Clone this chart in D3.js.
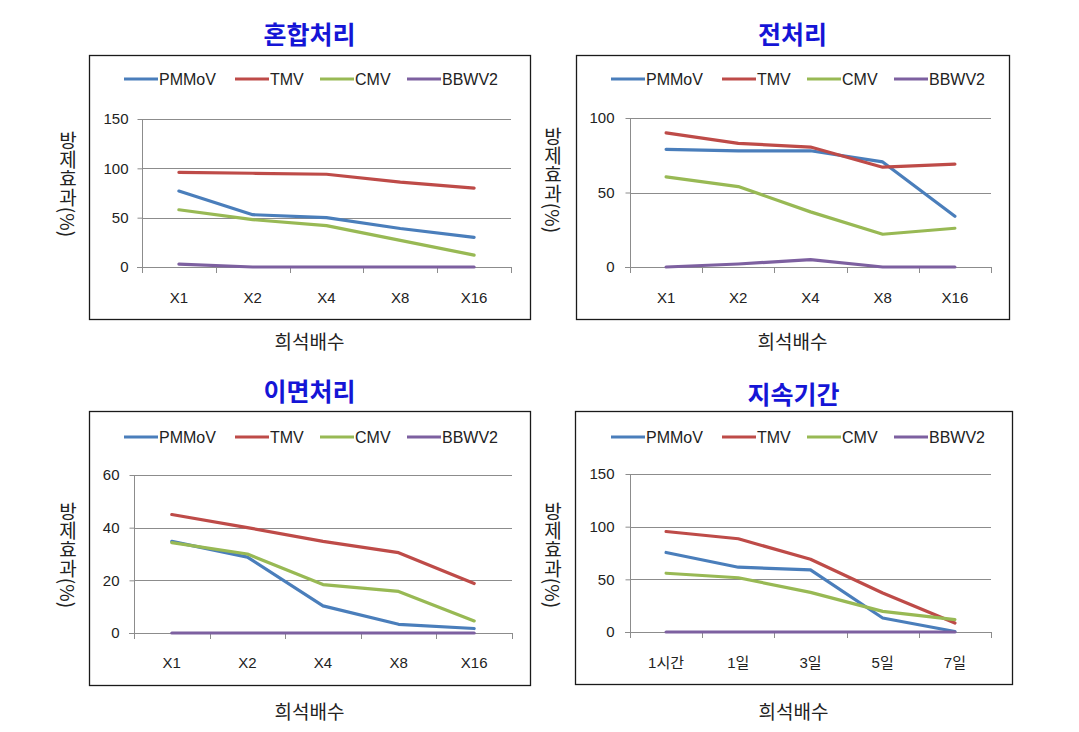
<!DOCTYPE html>
<html><head><meta charset="utf-8">
<script src="https://cdn.jsdelivr.net/npm/d3@7"></script>
<style>
body{margin:0;background:#fff;}
svg{display:block;font-family:"Liberation Sans","Noto Sans CJK KR",sans-serif;}
</style></head>
<body><svg id="c" width="1079" height="732"></svg>
<script>
const seriesNames = ["PMMoV","TMV","CMV","BBWV2"];
const seriesColors = ["#4a7ebb","#be4b48","#98b954","#7d60a0"];
const dilutionCats = ["X1","X2","X4","X8","X16"];
const durationCats = ["1시간","1일","3일","5일","7일"];
const panelTitles = ["혼합처리","전처리","이면처리","지속기간"];
const xAxisTitle = "희석배수";
const yAxisTitle = "방제효과(%)";

// 혼합처리
const mixPMMoV = [77,53,50,39,30];
const mixTMV   = [96,95,94,86,80];
const mixCMV   = [58,48,42,27,12];
const mixBBWV2 = [3,0,0,0,0];
const mixTicks = [0,50,100,150];
// 전처리
const prePMMoV = [79,78,78,70.5,34];
const preTMV   = [90,83,80.5,67,69];
const preCMV   = [60.5,54,37,22,26];
const preBBWV2 = [0,2,5,0,0];
const preTicks = [0,50,100];
// 이면처리
const backPMMoV = [34.8,28.8,10.3,3.3,1.7];
const backTMV   = [45,40,34.8,30.5,18.8];
const backCMV   = [34.3,30,18.4,15.8,4.6];
const backBBWV2 = [0,0,0,0,0];
const backTicks = [0,20,40,60];
// 지속기간
const durPMMoV = [75.5,61.5,59,13.3,0.5];
const durTMV   = [95.4,88.5,69,37,8.5];
const durCMV   = [55.8,51.5,37.6,19.6,11.7];
const durBBWV2 = [0,0,0,0,0];
const durTicks = [0,50,100,150];

const panels = [
  {title:panelTitles[0], cats:dilutionCats, series:[mixPMMoV,mixTMV,mixCMV,mixBBWV2], ticks:mixTicks,
   box:[89,55,530,319], plot:[142,119,511,267], titleY:33, xTitleY:340, yLabelX:68, yLabelY:184, legendY:79, legendX:124, tickLabelX:128, catY:297},
  {title:panelTitles[1], cats:dilutionCats, series:[prePMMoV,preTMV,preCMV,preBBWV2], ticks:preTicks,
   box:[576,55,1009,319], plot:[630,118,991,267], titleY:33, xTitleY:340, yLabelX:553, yLabelY:180, legendY:79, legendX:611, tickLabelX:614, catY:297},
  {title:panelTitles[2], cats:dilutionCats, series:[backPMMoV,backTMV,backCMV,backBBWV2], ticks:backTicks,
   box:[89,411,530,685], plot:[134,475,512,633], titleY:390, xTitleY:710, yLabelX:68, yLabelY:555, legendY:437, legendX:124, tickLabelX:119, catY:662},
  {title:panelTitles[3], cats:durationCats, series:[durPMMoV,durTMV,durCMV,durBBWV2], ticks:durTicks,
   box:[575,411,1012,684], plot:[630,474,991,632], titleY:393, xTitleY:710, yLabelX:553, yLabelY:555, legendY:437, legendX:611, tickLabelX:614, catY:662}
];

const svg = d3.select("#c");

panels.forEach(p => {
  const g = svg.append("g");
  const [bx0,by0,bx1,by1] = p.box;
  const cx = (bx0+bx1)/2;
  // title
  g.append("text").attr("x",cx).attr("y",p.titleY).attr("text-anchor","middle").attr("dominant-baseline","central")
    .attr("font-family","'Noto Sans CJK KR',sans-serif")
    .attr("font-size",25).attr("font-weight","bold").attr("fill","#1515d6").text(p.title);
  // box
  g.append("rect").attr("x",bx0+0.5).attr("y",by0+0.5).attr("width",bx1-bx0).attr("height",by1-by0)
    .attr("fill","#fff").attr("stroke","#1a1a1a").attr("stroke-width",1.3);
  // x title
  g.append("text").attr("x",cx).attr("y",p.xTitleY).attr("text-anchor","middle").attr("dominant-baseline","central")
    .attr("font-family","'Noto Sans CJK KR',sans-serif")
    .attr("font-size",19).attr("fill","#222").text(xAxisTitle);
  // y title vertical
  g.append("text").attr("x",p.yLabelX).attr("y",p.yLabelY).attr("text-anchor","middle")
    .attr("font-family","'Noto Sans CJK KR',sans-serif")
    .style("writing-mode","vertical-rl").style("text-orientation","mixed")
    .attr("font-size",19).attr("fill","#222").text(yAxisTitle);

  const [px0,py0,px1,py1] = p.plot;
  const x = d3.scaleBand().domain(p.cats).range([px0,px1]);
  const yMax = p.ticks[p.ticks.length-1];
  const y = d3.scaleLinear().domain([0,yMax]).range([py1,py0]);

  // gridlines
  g.append("g").selectAll("line").data(p.ticks.filter(t=>t>0)).join("line")
    .attr("x1",px0).attr("x2",px1).attr("y1",d=>Math.round(y(d))+0.5).attr("y2",d=>Math.round(y(d))+0.5)
    .attr("stroke","#8c8c8c").attr("stroke-width",1);
  // y axis
  const yAxis = d3.axisLeft(y).tickValues(p.ticks).tickSize(5).tickPadding(p.plot[0]-5-p.tickLabelX);
  const ya = g.append("g").attr("transform",`translate(${px0+0.5},0)`).call(yAxis);
  ya.select(".domain").attr("stroke","#8c8c8c").attr("d",`M0,${py0}V${py1}`);
  ya.selectAll(".tick line").attr("stroke","#8c8c8c");
  ya.selectAll(".tick text").attr("font-size",15).attr("fill","#222").attr("font-family","'Liberation Sans',sans-serif");
  // x axis line
  g.append("line").attr("x1",px0-5).attr("x2",px1).attr("y1",Math.round(py1)+0.5).attr("y2",Math.round(py1)+0.5)
    .attr("stroke","#8c8c8c");
  // boundary ticks
  const bounds = p.cats.map(c=>x(c)).concat([px1]);
  g.append("g").selectAll("line").data(bounds).join("line")
    .attr("x1",d=>Math.round(d)+0.5).attr("x2",d=>Math.round(d)+0.5).attr("y1",py1).attr("y2",py1+6)
    .attr("stroke","#8c8c8c");
  // category labels
  g.append("g").selectAll("text").data(p.cats).join("text")
    .attr("x",d=>x(d)+x.bandwidth()/2).attr("y",p.catY).attr("text-anchor","middle").attr("dominant-baseline","central")
    .attr("font-size",15).attr("fill","#222").text(d=>d);

  // lines
  const line = d3.line().x((d,i)=>x(p.cats[i])+x.bandwidth()/2).y(d=>y(d));
  p.series.forEach((s,i)=>{
    g.append("path").datum(s).attr("d",line).attr("fill","none")
      .attr("stroke",seriesColors[i]).attr("stroke-width",3.2).attr("stroke-linejoin","round").attr("stroke-linecap","round");
  });

  // legend
  const legendOffsets = [0,111,196,283];
  seriesNames.forEach((n,i)=>{
    const lx = p.legendX + legendOffsets[i];
    g.append("line").attr("x1",lx).attr("x2",lx+34).attr("y1",p.legendY).attr("y2",p.legendY)
      .attr("stroke",seriesColors[i]).attr("stroke-width",3.2);
    g.append("text").attr("x",lx+35).attr("y",p.legendY).attr("dominant-baseline","central")
      .attr("font-size",16).attr("fill","#222").text(n);
  });
});
</script></body></html>
